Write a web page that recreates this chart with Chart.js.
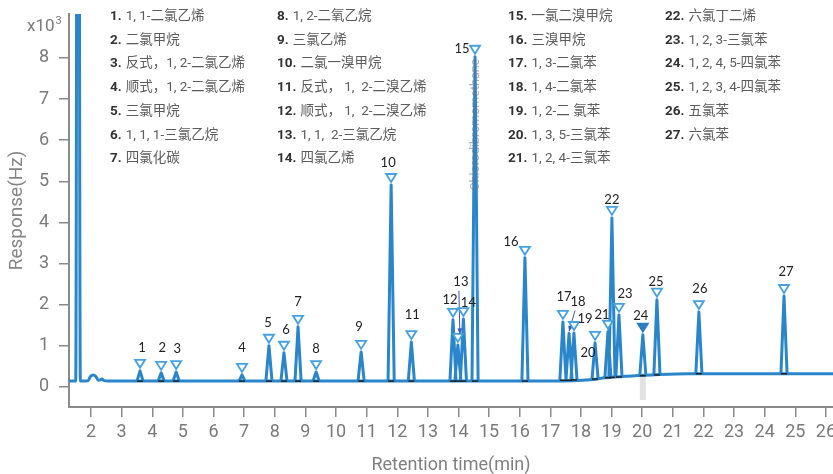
<!DOCTYPE html>
<html>
<head>
<meta charset="utf-8">
<script src="https://cdn.jsdelivr.net/npm/chart.js@4/dist/chart.umd.min.js"></script>
<style>
  html, body { margin: 0; padding: 0; background: #fff; }
  #wrap { width: 833px; height: 474px; }
</style>
</head>
<body>
<div id="wrap"><canvas id="c" width="833" height="474"></canvas></div>
<script>
// ---- data -------------------------------------------------------------
const peakNumbers = [1, 2, 3, 4, 5, 6, 7, 8, 9, 10, 11, 12, 13, 14, 15, 16, 17, 18, 19, 20, 21, 22, 23, 24, 25, 26, 27];
const peakTimes   = [3.60, 4.29, 4.78, 6.93, 7.81, 8.30, 8.76, 9.35, 10.82, 11.80, 12.46, 13.82, 13.98, 14.16, 14.54,
                     16.17, 17.41, 17.61, 17.77, 18.46, 18.88, 19.01, 19.24, 20.02, 20.48, 21.85, 24.63];
const peakHeights = [0.39, 0.34, 0.36, 0.29, 1.00, 0.83, 1.46, 0.36, 0.85, 4.91, 1.09, 1.63, 1.02, 1.65, 8.03,
                     3.14, 1.58, 1.30, 1.31, 1.07, 1.34, 4.11, 1.75, 1.27, 2.12, 1.82, 2.21];
const peakBases   = [0.14, 0.14, 0.14, 0.14, 0.14, 0.14, 0.14, 0.14, 0.14, 0.14, 0.14, 0.14, 0.14, 0.14, 0.14,
                     0.14, 0.16, 0.16, 0.17, 0.19, 0.22, 0.23, 0.24, 0.27, 0.29, 0.32, 0.32];

// trace between the peaks: solvent front, early hump and drifting baseline
const baselineTimes  = [1.28, 1.50, 1.575, 1.65, 1.90, 1.98, 2.07, 2.16, 2.24, 2.30, 2.36, 2.42, 2.55,
                        17.0, 18.3, 18.8, 19.5, 20.3, 21.5, 26.23];
const baselineLevels = [0.14, 0.14, 30.0, 0.14, 0.15, 0.25, 0.29, 0.25, 0.16, 0.17, 0.19, 0.15, 0.14,
                        0.14, 0.17, 0.22, 0.26, 0.29, 0.32, 0.32];

const compoundNames = [
  '1, 1-二氯乙烯', '二氯甲烷', '反式，1, 2-二氯乙烯', '顺式，1, 2-二氯乙烯', '三氯甲烷', '1, 1, 1-三氯乙烷', '四氯化碳',
  '1, 2-二氧乙烷', '三氯乙烯', '二氯一溴甲烷', '反式， 1,  2-二溴乙烯', '顺式， 1,  2-二溴乙烯', '1, 1,  2-三氯乙烷', '四氯乙烯',
  '一氯二溴甲烷', '三溴甲烷', '1, 3-二氯苯', '1, 4-二氯苯', '1, 2-二 氯苯', '1, 3, 5-三氯苯', '1, 2, 4-三氯苯',
  '六氯丁二烯', '1, 2, 3-三氯苯', '1, 2, 4, 5-四氯苯', '1, 2, 3, 4-四氯苯', '五氯苯', '六氯苯'
];
const xTickValues = [2, 3, 4, 5, 6, 7, 8, 9, 10, 11, 12, 13, 14, 15, 16, 17, 18, 19, 20, 21, 22, 23, 24, 25, 26];
const yTickValues = [0, 1, 2, 3, 4, 5, 6, 7, 8];
const cursorTime = 20.02;
const peak15Annotation = 'Chlorodibromomethane';

// ---- styling ----------------------------------------------------------
const TRACE = '#2a86cb';
const MARK = '#44a2e0';
const AXIS = '#8a8a8a';
const peakHalfWidth = 0.1;
// label position relative to the marker centre, in px
const labelOffsets = [[2,-16],[1,-18],[1,-16],[0,-20],[-1,-16],[2,-16],[0,-18],[0,-16],[-2,-18],[-3,-15],[1,-20],
  [-3,-13],[3,-56],[5,-9],[-13,-1],[-14,-9],[1,-18],[9,-25],[11,-7],[-7,17],[-6,-10],[0,-11],[6,-14],[-2,-12],
  [-1,-11],[1,-16],[2,-17]];
const markerKinds = peakNumbers.map(n => n === 24 ? 'filled' : (n === 18 ? 'none' : 'open'));
const arrowPeaks = [13, 18];

// ---- build datasets ---------------------------------------------------
const baselinePoints = baselineTimes.map((t, i) => ({ x: t, y: baselineLevels[i] }));
const peakPoints = [];
peakTimes.forEach((t, i) => {
  peakPoints.push({ x: t - peakHalfWidth, y: peakBases[i] });
  peakPoints.push({ x: t, y: peakHeights[i] });
  peakPoints.push({ x: t + peakHalfWidth, y: peakBases[i] });
  peakPoints.push({ x: t + peakHalfWidth, y: null });
});

function markerCentre(chart, i) {
  const xs = chart.scales.x, ys = chart.scales.y;
  return [xs.getPixelForValue(peakTimes[i]), ys.getPixelForValue(peakHeights[i]) - 7];
}

function arrow(ctx, x1, y1, x2, y2) {
  ctx.save();
  ctx.strokeStyle = '#3a56b8'; ctx.fillStyle = '#3a56b8'; ctx.lineWidth = 1;
  ctx.beginPath(); ctx.moveTo(x1, y1); ctx.lineTo(x2, y2); ctx.stroke();
  const a = Math.atan2(y2 - y1, x2 - x1), L = 6;
  ctx.beginPath();
  ctx.moveTo(x2, y2);
  ctx.lineTo(x2 - L * Math.cos(a - 0.4), y2 - L * Math.sin(a - 0.4));
  ctx.lineTo(x2 - L * Math.cos(a + 0.4), y2 - L * Math.sin(a + 0.4));
  ctx.closePath(); ctx.fill();
  ctx.restore();
}

const overlay = {
  id: 'overlay',
  beforeDatasetsDraw(chart) {
    const { ctx } = chart, xs = chart.scales.x, ys = chart.scales.y;
    const x = xs.getPixelForValue(cursorTime);
    const y1 = ys.getPixelForValue(0.25), y2 = ys.getPixelForValue(-0.32);
    ctx.save();
    ctx.fillStyle = '#e2e2e2';
    ctx.fillRect(x - 3, y1, 6, y2 - y1);
    ctx.restore();
  },
  afterDatasetsDraw(chart) {
    const { ctx } = chart, xs = chart.scales.x, ys = chart.scales.y;
    ctx.save();
    // integration marks at the peak feet
    ctx.strokeStyle = '#222'; ctx.lineWidth = 1.5;
    peakTimes.forEach((t, i) => {
      const x = xs.getPixelForValue(t), y = ys.getPixelForValue(peakBases[i]);
      ctx.beginPath(); ctx.moveTo(x - 3, y); ctx.lineTo(x + 3, y); ctx.stroke();
    });
    // vertical compound name along peak 15
    const i15 = peakNumbers.indexOf(15);
    const [px15, py15] = markerCentre(chart, i15);
    ctx.save();
    ctx.translate(px15 + 1, py15 + 9);
    ctx.rotate(-Math.PI / 2);
    ctx.font = '12.5px Roboto';
    ctx.textAlign = 'right'; ctx.textBaseline = 'middle';
    ctx.fillStyle = 'rgba(120,110,120,0.55)';
    ctx.fillText(peak15Annotation, 0, 0);
    ctx.restore();
    // markers
    peakNumbers.forEach((n, i) => {
      const [cx, cy] = markerCentre(chart, i);
      const kind = markerKinds[i];
      if (kind !== 'none') {
        ctx.beginPath();
        ctx.moveTo(cx - 5, cy - 4); ctx.lineTo(cx + 5, cy - 4); ctx.lineTo(cx, cy + 4); ctx.closePath();
        ctx.lineWidth = 1.8; ctx.lineJoin = 'miter';
        ctx.fillStyle = kind === 'filled' ? '#2a7fc4' : '#ffffff';
        ctx.strokeStyle = kind === 'filled' ? '#2a7fc4' : MARK;
        ctx.fill(); ctx.stroke();
      }
      const [dx, dy] = labelOffsets[i];
      ctx.font = '13px Lato';
      ctx.fillStyle = '#222';
      ctx.textAlign = 'center'; ctx.textBaseline = 'middle';
      ctx.fillText(String(n), cx + dx, cy + dy);
      if (arrowPeaks.includes(n)) {
        const lx = cx + dx, ly = cy + dy + 9;
        if (n === 13) arrow(ctx, lx - 2, ly, cx + 2, cy - 4);
        else arrow(ctx, lx - 3, ly, cx, cy + 5);
      }
    });
    ctx.restore();
  },
  afterDraw(chart) {
    const { ctx } = chart;
    ctx.save();
    // x10^3 multiplier
    ctx.fillStyle = '#7a7a7a';
    ctx.textBaseline = 'middle'; ctx.textAlign = 'left';
    ctx.font = '17px Roboto';
    ctx.fillText('x10', 27, 27);
    const w = ctx.measureText('x10').width;
    ctx.font = '11px Roboto';
    ctx.fillText('3', 27 + w + 1, 21);
    // compound list
    const cols = [110, 277, 508, 665];
    const colStarts = [0, 7, 14, 21];
    const rowH = 23.75;
    compoundNames.forEach((name, i) => {
      let c = 3;
      for (let k = 0; k < 4; k++) if (i >= colStarts[k]) c = k;
      const r = i - colStarts[c];
      const x = cols[c], y = 16.5 + r * rowH;
      ctx.font = 'bold 13.5px Roboto';
      ctx.fillStyle = '#333';
      const num = peakNumbers[i] + '.';
      ctx.fillText(num, x, y);
      const nw = ctx.measureText(num).width;
      ctx.font = "13.5px Roboto, 'Noto Sans CJK SC'";
      ctx.fillStyle = '#5c5c5c';
      ctx.fillText(name, x + nw + 4, y);
    });
    ctx.restore();
  }
};

new Chart(document.getElementById('c'), {
  type: 'scatter',
  data: {
    datasets: [
      { data: baselinePoints, showLine: true, borderColor: TRACE, borderWidth: 3, pointRadius: 0,
        cubicInterpolationMode: 'monotone', borderJoinStyle: 'round' },
      { data: peakPoints, showLine: true, borderColor: TRACE, borderWidth: 3, pointRadius: 0,
        tension: 0, spanGaps: false, borderJoinStyle: 'round' }
    ]
  },
  options: {
    responsive: false,
    animation: false,
    devicePixelRatio: 1,
    layout: { padding: { top: 14, left: 0, right: 0, bottom: 0 } },
    plugins: { legend: { display: false }, tooltip: { enabled: false } },
    scales: {
      x: {
        type: 'linear', min: 1.28, max: 26.23,
        afterFit(s) { s.height = 67; s.paddingLeft = 0; s.paddingRight = 0; },
        afterBuildTicks(s) { s.ticks = xTickValues.map(v => ({ value: v })); },
        grid: { drawOnChartArea: false, tickLength: 10, color: AXIS, lineWidth: 1.5 },
        border: { color: AXIS, width: 2 },
        ticks: { color: '#7a7a7a', font: { family: 'Roboto', size: 18 }, padding: 5, autoSkip: false, maxRotation: 0 },
        title: { display: true, text: 'Retention time(min)', color: '#808080',
                 font: { family: 'Roboto', size: 18, lineHeight: 1 }, padding: { top: 0, bottom: 0 } }
      },
      y: {
        type: 'linear', min: -0.49, max: 9.07,
        afterFit(s) { s.width = 69; s.paddingTop = 0; s.paddingBottom = 0; },
        afterBuildTicks(s) { s.ticks = yTickValues.map(v => ({ value: v })); },
        grid: { drawOnChartArea: false, tickLength: 10, color: AXIS, lineWidth: 1.5 },
        border: { color: AXIS, width: 2 },
        ticks: { color: '#7a7a7a', font: { family: 'Roboto', size: 18 }, padding: 10 },
        title: { display: true, text: 'Response(Hz)', color: '#858585',
                 font: { family: 'Roboto', size: 19, lineHeight: 1.2 }, padding: { top: 6, bottom: 0 } }
      }
    }
  },
  plugins: [overlay]
});
</script>
</body>
</html>
